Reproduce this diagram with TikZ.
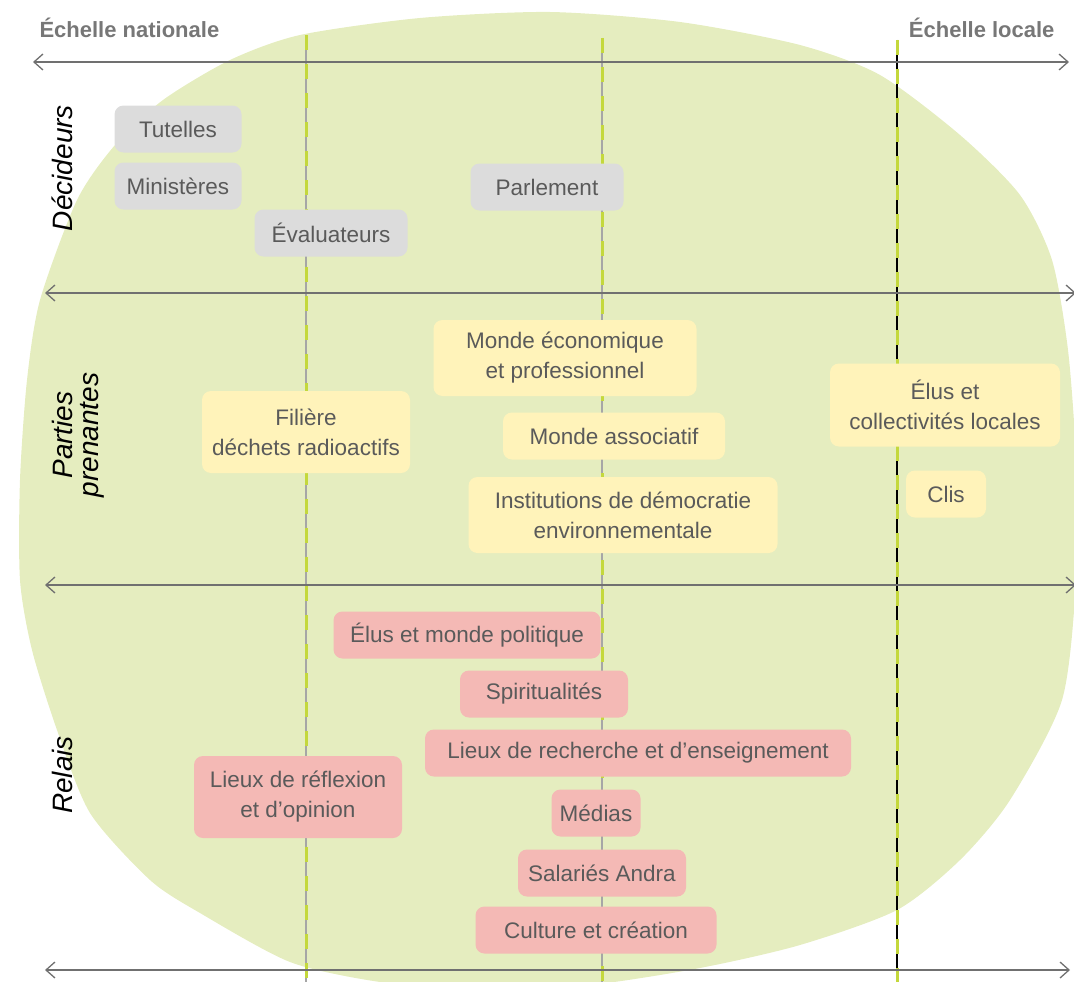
\documentclass[tikz,border=0pt]{standalone}
\usepackage{fontspec}
\setmainfont{Liberation Sans}
\usetikzlibrary{arrows.meta}
\definecolor{blobgreen}{HTML}{E5EDBF}
\definecolor{dashgreen}{HTML}{C4D83C}
\definecolor{axisgray}{HTML}{707070}
\definecolor{boxgray}{HTML}{DCDCDC}
\definecolor{boxyellow}{HTML}{FFF3BA}
\definecolor{boxpink}{HTML}{F4B9B5}
\definecolor{txtgray}{HTML}{5A5A5A}
\definecolor{headgray}{HTML}{777777}
\tikzset{
  box/.style={rounded corners=9pt, inner sep=0pt, minimum height=47pt, align=center,
    text=txtgray, font=\fontsize{22.5}{30}\selectfont},
  grayb/.style={box, fill=boxgray},
  yellowb/.style={box, fill=boxyellow},
  pinkb/.style={box, fill=boxpink},
  axis/.style={draw=axisgray, line width=2.4pt, {Straight Barb[length=9pt,width=16pt,line width=1.3pt]}-{Straight Barb[length=9pt,width=16pt,line width=1.3pt]}},
  vbase/.style={draw=gray!70, line width=1.2pt},
  vdash/.style={draw=dashgreen, line width=3pt, dash pattern=on 15pt off 14pt},
  rowlab/.style={rotate=90, font=\itshape\fontsize{28}{30}\selectfont, text=black, align=center},
  head/.style={font=\bfseries\fontsize{22}{26}\selectfont, text=headgray}
}
\begin{document}
\begin{tikzpicture}[x=1pt,y=-1pt]
\useasboundingbox (0,0) rectangle (1074,982);
\begin{scope}
\clip (0,0) rectangle (1074,982);
\fill[blobgreen] plot[smooth cycle, tension=0.45] coordinates {
 (163,100) (230,60) (300,35) (420,18) (550,12) (680,22) (800,45) (880,75)
 (960,135) (1020,195) (1052,260) (1068,350) (1076,460) (1076,580) (1062,700)
 (1010,800) (960,860) (897,910) (800,945) (700,968) (590,985) (480,990)
 (380,982) (290,962) (200,913) (150,880) (90,813) (57,730) (32,650) (20,580)
 (20,480) (27,380) (40,300) (77,200) (115,145)};
% vertical lines
\coordinate (v1t) at (306,35);  \coordinate (v1b) at (306,990);
\coordinate (v2t) at (602,38);  \coordinate (v2b) at (602,990);
\coordinate (v3t) at (897,40);  \coordinate (v3b) at (897,990);
\draw[vbase] (v1t) -- (v1b);
\draw[vbase] (v2t) -- (v2b);
\draw[draw=black, line width=1.4pt] (v3t) -- (v3b);
\draw[vdash] (v1t) -- (v1b);
\draw[vdash] (v2t) -- (v2b);
\draw[vdash] (v3t) -- (v3b);
% horizontal axes
\coordinate (a1l) at (33,62);  \coordinate (a1r) at (1069,62);
\coordinate (a2l) at (45,293); \coordinate (a2r) at (1076,293);
\coordinate (a3l) at (45,585); \coordinate (a3r) at (1076,585);
\coordinate (a4l) at (45,970); \coordinate (a4r) at (1070,970);
\draw[axis] (a1l) -- (a1r);
\draw[axis] (a2l) -- (a2r);
\draw[axis] (a3l) -- (a3r);
\draw[axis] (a4l) -- (a4r);
\end{scope}
% headers
\node[head, anchor=west] (hnat) at (36,28) {Échelle nationale};
\node[head, anchor=east] (hloc) at (1058,28) {Échelle locale};
% row labels
\node[rowlab] (rdec) at (62,168) {Décideurs};
\node[rowlab] (rpart) at (78,435) {Parties\\[-4pt]prenantes};
\node[rowlab] (rrel) at (62,775) {Relais};
% Décideurs
\node[grayb, minimum width=127pt] (tut) at (178,129) {Tutelles};
\node[grayb, minimum width=127pt] (min) at (178,186) {Ministères};
\node[grayb, minimum width=153pt] (eva) at (331,233) {Évaluateurs};
\node[grayb, minimum width=153pt] (par) at (547,187) {Parlement};
% Parties prenantes
\node[yellowb, minimum width=263pt, minimum height=76pt] (meco) at (565,358) {Monde économique\\et professionnel};
\node[yellowb, minimum width=208pt, minimum height=82pt] (fil) at (306,432) {Filière\\déchets radioactifs};
\node[yellowb, minimum width=222pt] (mass) at (614,436) {Monde associatif};
\node[yellowb, minimum width=309pt, minimum height=76pt] (inst) at (623,515) {Institutions de démocratie\\environnementale};
\node[yellowb, minimum width=230pt, minimum height=83pt] (elus) at (945,405) {Élus et\\collectivités locales};
\node[yellowb, minimum width=80pt] (clis) at (946,494) {Clis};
% Relais
\node[pinkb, minimum width=267pt] (pol) at (467,635) {Élus et monde politique};
\node[pinkb, minimum width=168pt] (spi) at (544,694) {Spiritualités};
\node[pinkb, minimum width=426pt] (rech) at (638,753) {Lieux de recherche et d’enseignement};
\node[pinkb, minimum width=208pt, minimum height=82pt] (refl) at (298,797) {Lieux de réflexion\\et d’opinion};
\node[pinkb, minimum width=89pt] (med) at (596,813) {Médias};
\node[pinkb, minimum width=168pt] (sal) at (602,873) {Salariés Andra};
\node[pinkb, minimum width=241pt] (cul) at (596,930) {Culture et création};
\end{tikzpicture}
\end{document}
